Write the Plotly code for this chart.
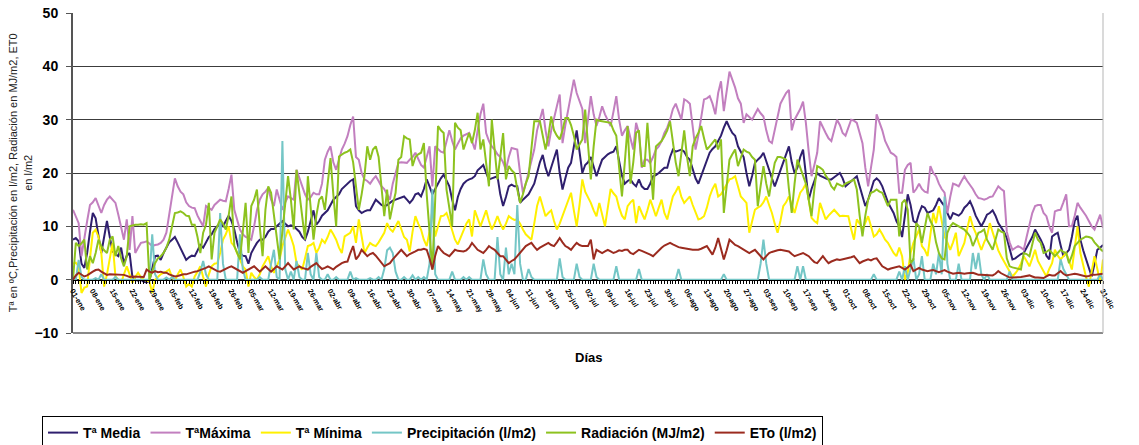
import plotly.graph_objects as go

days = list(range(365))

tick_days = [0, 7, 14, 21, 28, 35, 42, 49, 56, 63, 70, 77, 84, 91, 98, 105, 112, 119, 126,
             133, 140, 147, 154, 161, 168, 175, 182, 189, 196, 203, 210, 217, 224, 231, 238,
             245, 252, 259, 266, 273, 280, 287, 294, 301, 308, 315, 322, 329, 336, 343, 350,
             357, 364]
tick_labels = ["01-ene", "08-ene", "15-ene", "22-ene", "29-ene", "05-feb", "12-feb", "19-feb",
               "26-feb", "05-mar", "12-mar", "19-mar", "26-mar", "02-abr", "09-abr", "16-abr",
               "23-abr", "30-abr", "07-may", "14-may", "21-may", "28-may", "04-jun", "11-jun",
               "18-jun", "25-jun", "02-jul", "09-jul", "16-jul", "23-jul", "30-jul", "06-ago",
               "13-ago", "20-ago", "27-ago", "03-sep", "10-sep", "17-sep", "24-sep", "01-oct",
               "08-oct", "15-oct", "22-oct", "29-oct", "05-nov", "12-nov", "19-nov", "26-nov",
               "03-dic", "10-dic", "17-dic", "24-dic", "31-dic"]

t_media = [
    7.5, 7.8, 7.2, 3.0, 2.2, 5.0, 9.0, 12.5, 11.5, 8.0,
    5.0, 8.0, 11.0, 8.0, 5.3, 4.8, 4.4, 6.0, 3.0, 4.5,
    5.0, 0.5, 0.0, -0.2, 0.0, -0.4, -0.5, -0.2, 2.0, 4.4,
    4.5, 3.7, 5.0, 6.0, 7.0, 7.5, 8.0, 7.0, 6.0, 5.0,
    3.7, 4.2, 4.5, 4.4, 5.5, 6.5, 6.0, 7.0, 8.0, 8.5,
    9.5, 10.0, 10.6, 10.0, 11.0, 12.0, 11.0, 9.4, 7.0, 5.0,
    4.5, 4.4, 3.0, 5.0, 6.0, 6.9, 7.5, 7.5, 8.0, 9.0,
    9.5, 9.5, 10.0, 10.5, 11.0, 10.5, 10.0, 10.2, 10.0, 9.5,
    9.0, 8.0, 7.5, 9.0, 11.0, 13.0, 10.3, 11.0, 12.0, 12.5,
    13.0, 14.0, 15.0, 15.5, 16.0, 17.0, 17.5, 18.0, 18.5, 18.8,
    13.8, 13.0, 12.5, 12.8, 13.0, 13.0, 14.0, 15.0, 14.5, 14.0,
    13.8, 14.0, 14.4, 14.8, 15.0, 15.2, 15.5, 15.6, 15.0, 14.4,
    15.0, 16.0, 16.2, 15.6, 17.0, 18.8, 17.5, 16.0, 17.0, 18.0,
    19.0, 19.7, 18.5, 17.5, 15.0, 13.0, 15.5, 17.0, 18.0, 18.5,
    18.8, 19.0, 19.4, 20.5, 21.0, 21.5, 20.0, 18.8, 19.0, 19.2,
    19.4, 16.0, 13.8, 15.5, 17.5, 17.8, 17.5, 17.5, 14.4, 15.0,
    15.6, 16.0, 17.0, 18.0, 20.0, 22.0, 23.4, 21.0, 19.4, 21.0,
    23.0, 24.4, 20.0, 16.9, 19.0, 21.0, 21.9, 25.0, 28.0, 24.0,
    20.0, 21.5, 22.0, 23.0, 21.0, 19.4, 21.0, 22.5, 23.0, 23.5,
    23.8, 24.0, 25.0, 22.0, 19.5, 18.0, 18.5, 18.8, 18.0, 17.5,
    18.8, 17.5, 17.0, 17.0, 18.0, 19.4, 19.6, 20.0, 20.5, 21.0,
    21.0, 23.0, 24.4, 24.0, 24.2, 24.4, 24.0, 23.0, 22.5, 20.5,
    19.0, 18.0, 19.5, 21.0, 22.5, 23.8, 24.5, 25.0, 26.0, 27.0,
    28.5, 29.7, 28.5, 27.5, 27.0, 25.0, 24.0, 23.0, 20.0, 17.5,
    19.5, 21.9, 22.5, 23.0, 23.8, 22.0, 20.6, 19.0, 17.5, 19.0,
    20.6, 22.0, 23.5, 25.0, 22.0, 20.0, 21.0, 23.0, 24.4, 20.0,
    15.0, 17.0, 18.5, 20.0, 19.5, 19.2, 19.0, 18.8, 18.8, 19.2,
    19.6, 20.0, 19.0, 17.5, 18.0, 18.5, 19.0, 19.4, 17.5, 15.5,
    13.8, 15.0, 17.0, 18.5, 19.0, 18.5, 17.5, 16.0, 14.5, 13.5,
    12.5, 11.0, 10.0, 8.0, 12.0, 16.0, 14.0, 11.0, 10.6, 12.5,
    13.8, 13.5, 12.5, 12.8, 13.0, 14.0, 15.3, 14.5, 13.8, 12.5,
    11.3, 12.5, 12.3, 12.0, 12.5, 13.5, 14.0, 14.7, 13.5, 12.0,
    11.0, 10.0, 11.0, 12.2, 12.5, 13.0, 12.0, 10.6, 9.8, 9.0,
    7.8, 5.5, 3.8, 4.0, 4.4, 4.8, 5.0, 6.0, 6.9, 8.0,
    9.4, 8.5, 7.5, 6.3, 4.5, 3.8, 8.1, 8.5, 8.8, 6.5,
    4.4, 5.0, 5.6, 8.0, 11.0, 12.0, 7.5, 5.5, 3.8, 2.0,
    0.6, 3.0, 5.6, 6.0, 6.5,
]

t_maxima = [
    13.1, 12.0, 10.6, 4.4, 8.0, 11.0, 14.0, 14.5, 15.3, 14.0,
    12.5, 14.0, 15.0, 15.6, 15.0, 14.4, 12.2, 10.0, 7.5, 11.3,
    5.6, 11.9, 5.0, 6.0, 6.9, 7.0, 7.2, 6.8, 6.3, 6.5,
    6.6, 6.9, 7.5, 8.8, 12.0, 15.5, 19.0, 17.5, 16.5, 16.0,
    14.5, 13.8, 13.5, 13.4, 12.0, 11.0, 10.0, 13.8, 13.5, 13.1,
    14.0, 14.5, 15.0, 14.8, 14.7, 17.0, 19.7, 13.1, 11.0, 9.4,
    8.5, 8.0, 7.8, 7.5, 10.0, 13.0, 15.0, 16.0, 16.5, 17.2,
    15.0, 13.8, 16.9, 15.0, 13.1, 14.5, 15.6, 15.3, 15.0, 20.6,
    19.0, 17.5, 16.0, 15.0, 15.5, 16.3, 16.0, 16.0, 18.0, 22.5,
    24.0, 25.0, 22.0, 20.6, 22.5, 24.4, 25.5, 26.9, 29.0, 30.6,
    23.0, 22.5, 20.0, 18.8, 18.5, 18.0, 18.8, 19.4, 18.5, 17.5,
    17.0, 16.0, 15.0, 18.0, 20.0, 21.9, 22.0, 21.9, 21.9, 22.5,
    23.0, 23.8, 22.5, 21.5, 21.0, 23.0, 25.0, 17.5, 25.0, 24.5,
    24.0, 23.8, 26.0, 28.0, 26.0, 24.4, 25.5, 26.5, 27.0, 27.2,
    27.5, 26.0, 24.4, 28.0, 31.0, 33.0, 27.5, 26.0, 25.0, 24.4,
    23.5, 23.0, 22.0, 20.6, 23.0, 24.7, 24.5, 24.4, 20.0, 16.3,
    18.0, 20.0, 22.0, 24.4, 28.0, 30.0, 32.0, 28.0, 25.0, 28.0,
    30.0, 32.5, 34.7, 25.6, 29.0, 32.0, 35.0, 37.5, 35.0, 33.5,
    32.0, 25.6, 30.0, 34.4, 31.0, 28.8, 30.5, 32.5, 31.0, 30.0,
    28.8, 31.5, 34.4, 30.0, 27.0, 28.0, 28.8, 26.5, 24.4, 29.4,
    27.5, 21.0, 22.5, 22.5, 21.9, 23.0, 24.4, 25.0, 26.0, 27.5,
    28.5, 30.0, 32.0, 33.0, 31.5, 30.0, 33.8, 33.5, 33.0, 29.0,
    24.4, 27.0, 30.0, 33.8, 34.0, 34.4, 33.0, 31.0, 35.0, 37.2,
    31.6, 35.0, 39.0, 37.5, 36.0, 34.0, 33.0, 29.4, 31.0, 30.5,
    30.0, 31.0, 32.0, 31.2, 30.6, 28.0, 26.0, 25.6, 28.0, 30.5,
    33.0, 34.0, 35.0, 35.6, 28.0, 30.0, 31.0, 32.0, 33.4, 29.4,
    24.0, 19.4, 21.5, 23.8, 29.7, 28.5, 27.5, 26.5, 26.0, 28.0,
    30.0, 29.0, 27.5, 27.0, 28.5, 30.0, 29.8, 29.4, 27.5, 25.6,
    21.0, 17.5, 21.0, 24.4, 31.0, 29.5, 28.0, 26.0, 25.0, 23.8,
    23.5, 23.0, 16.3, 16.3, 20.6, 21.5, 21.9, 16.3, 17.0, 18.0,
    17.0, 16.5, 16.3, 21.3, 20.0, 19.4, 18.0, 17.0, 16.3, 12.5,
    15.5, 18.0, 17.8, 17.5, 18.5, 19.4, 18.5, 17.8, 17.0, 16.0,
    15.3, 15.2, 15.0, 15.2, 15.5, 15.6, 16.5, 17.5, 17.0, 16.6,
    9.0, 7.0, 5.6, 6.0, 6.3, 6.0, 5.6, 8.0, 10.6, 12.5,
    13.8, 14.0, 14.0, 12.5, 11.9, 10.0, 8.8, 12.8, 13.0, 13.1,
    14.5, 16.0, 10.0, 10.0, 12.0, 14.4, 13.5, 12.8, 12.0, 11.0,
    10.0, 9.4, 11.0, 12.2, 9.7,
]

t_minima = [
    3.0, 3.2, 2.5, -2.5, -1.5, -1.3, 4.0, 8.8, 9.4, 8.0,
    5.0, -1.3, 1.0, 3.8, 6.9, 0.6, 0.0, -0.6, 1.0, 2.5,
    1.0, -0.6, 0.5, 1.3, 0.5, 0.0, -0.2, -0.3, -2.5, 0.0,
    0.5, 1.0, 1.3, 1.5, 1.9, 0.5, -0.3, 1.0, 1.9, 0.5,
    -1.3, -0.8, -1.3, 0.6, 1.5, 2.5, 0.5, -1.3, 1.0, 2.5,
    3.0, 3.1, 5.0, 7.5, 8.5, 10.0, 6.9, 6.3, 5.0, 3.8,
    2.5, 1.9, -1.3, 1.3, 0.5, 0.0, 1.0, 2.5, 3.5, 4.4,
    2.5, 1.3, 2.5, 3.8, 6.3, 8.0, 9.4, 8.0, 6.3, 3.1,
    2.5, 1.9, 4.0, 6.3, 6.5, 6.9, 5.0, 6.0, 7.5, 6.9,
    8.0, 9.4, 8.5, 7.5, 6.0, 5.0, 8.1, 8.5, 8.8, 10.0,
    6.9, 11.3, 8.0, 5.0, 6.0, 6.9, 6.5, 6.3, 7.0, 8.0,
    8.8, 10.6, 9.5, 9.0, 10.0, 11.0, 9.5, 8.0, 7.5, 5.3,
    9.0, 11.9, 10.5, 9.4, 7.5, 6.3, 9.0, 13.0, 8.1, 10.0,
    11.9, 12.0, 12.5, 11.0, 9.4, 7.5, 6.6, 8.0, 9.4, 10.5,
    11.3, 8.1, 13.0, 11.5, 10.0, 11.5, 13.0, 11.0, 9.4, 10.5,
    11.9, 10.5, 9.4, 10.5, 11.9, 11.5, 11.2, 11.3, 10.5, 9.4,
    8.5, 8.0, 7.5, 10.5, 13.8, 15.6, 13.5, 11.9, 12.5, 13.0,
    11.0, 9.4, 10.5, 11.9, 13.5, 15.0, 16.3, 13.0, 10.0, 14.0,
    18.8, 16.5, 15.5, 14.4, 13.0, 11.9, 14.4, 12.0, 10.0, 13.5,
    17.0, 16.2, 15.6, 13.5, 12.0, 11.3, 13.8, 14.5, 15.0, 10.6,
    13.8, 12.5, 11.3, 13.0, 15.0, 13.5, 11.9, 13.5, 15.0, 12.5,
    11.3, 13.5, 15.6, 16.5, 17.5, 15.5, 14.4, 15.0, 15.6, 14.0,
    12.5, 11.3, 11.5, 11.9, 13.5, 15.6, 17.0, 18.0, 15.6, 16.0,
    16.9, 17.8, 18.8, 19.0, 19.4, 17.5, 15.6, 15.0, 14.4, 8.8,
    11.0, 13.1, 13.5, 13.8, 14.5, 15.6, 14.0, 12.5, 10.5, 8.8,
    11.0, 13.8, 14.5, 15.6, 14.0, 12.5, 14.5, 16.3, 17.0, 18.0,
    15.0, 11.6, 11.0, 10.6, 14.4, 13.0, 11.3, 12.0, 12.5, 13.1,
    12.5, 11.9, 12.0, 11.9, 11.9, 9.5, 7.5, 11.3, 10.5, 9.4,
    10.5, 11.9, 10.0, 8.1, 8.5, 9.4, 8.5, 7.5, 6.9, 6.0,
    5.0, 4.4, 6.0, 4.4, 0.0, 1.3, 5.0, 6.9, 8.1, 9.4,
    6.3, 5.6, 4.4, 8.1, 12.5, 10.6, 13.8, 11.0, 8.1, 7.0,
    5.6, 7.0, 8.8, 4.4, 5.5, 6.9, 9.5, 11.9, 10.0, 8.8,
    7.0, 5.6, 7.0, 8.1, 10.6, 9.0, 7.5, 5.5, 4.4, 3.5,
    2.5, 1.5, 0.6, 1.2, 1.9, 3.0, 4.4, 3.5, 2.5, 4.0,
    5.6, 3.5, 2.5, 1.5, 0.6, 2.0, 3.1, 5.6, 4.5, 3.8,
    4.4, 5.0, 3.5, 1.9, 6.0, 10.0, 5.0, 2.5, 0.5, -1.3,
    1.5, 4.4, 2.0, -0.6, 3.8,
]

precipitacion = [
    0, 0, 3.7, 0.5, 0, 0, 0, 0, 0.3, 0,
    1.0, 0, 0, 0, 0, 0.5, 0, 0, 0, 0,
    0, 0, 0, 0, 0, 0, 0, 0, 8.5, 1.0,
    0, 0, 0, 0.4, 0, 0.5, 0, 0, 0, 0,
    0, 0, 0, 0, 0, 1.5, 3.5, 1.0, 0, 0,
    0, 0, 12.5, 3.0, 0, 0, 0, 0, 0, 8.5,
    2.0, 0, 0, 0, 0, 0, 0.5, 0, 0, 0,
    3.0, 5.6, 0.5, 0, 26.0, 2.0, 0, 1.5, 0, 3.5,
    0.5, 0, 0, 5.0, 1.0, 0, 5.0, 0.5, 0, 0,
    1.0, 0, 0, 0.5, 0, 0, 0, 0, 1.5, 0,
    0.3, 0, 0, 0, 0, 0.3, 0, 0, 0.5, 0,
    2.0, 5.5, 6.0, 5.0, 1.5, 0, 0, 0.5, 0, 0,
    0.8, 0, 0.5, 0, 0.5, 0, 3.0, 17.0, 1.0, 0,
    0, 0, 0, 0, 1.5, 0, 0, 0, 0.5, 0,
    0.5, 0, 0, 0, 0, 3.8, 1.0, 0, 0, 0,
    8.0, 1.0, 0, 6.0, 1.0, 3.0, 1.0, 14.0, 3.0, 0,
    0, 2.0, 0.5, 0, 0, 0, 0, 0, 0, 0,
    0, 0, 4.0, 0.5, 0, 0, 0, 0, 3.0, 0.5,
    0, 0, 0, 0, 3.0, 0.5, 0, 0, 0, 0,
    0, 0, 2.5, 0, 0, 0, 0, 0, 0, 0,
    2.0, 0, 0, 0, 0, 0, 0, 0, 0, 0,
    0, 0, 0, 0, 2.0, 0, 0, 0, 0, 0,
    0, 0, 0, 0, 0, 0, 0, 0, 0, 0,
    1.0, 0, 0, 0, 0, 0, 0, 0, 0, 0,
    0, 0, 0, 3.0, 7.5, 3.0, 0, 0, 0, 0,
    0, 0, 0, 0, 0, 0, 2.5, 0, 2.5, 0,
    0, 0, 0, 0, 0, 0, 0, 0, 0, 0,
    0, 0, 0, 0, 0, 0, 0, 0, 0, 0,
    0, 0, 0, 1.0, 0, 0, 0, 0, 0, 0,
    0, 0, 1.5, 0, 2.5, 0, 2.0, 4.0, 0, 1.0,
    4.4, 0, 0, 0, 3.0, 1.0, 5.0, 1.0, 15.6, 3.0,
    0, 0, 0, 3.0, 0, 0, 0, 0, 5.0, 2.0,
    5.0, 1.0, 0, 1.0, 0, 0, 0, 0, 0, 0,
    0, 1.5, 0, 0, 0, 0, 0, 0, 0, 0,
    0, 0, 0, 0, 0, 0, 0, 0, 0, 3.8,
    2.0, 1.0, 0, 0, 0, 0, 0, 0, 0, 0,
    0, 0, 0, 1.0, 0,
]

radiacion = [
    0.0, 6.9, 6.3, 6.8, 7.5, 1.9, 4.4, 3.1, 5.0, 7.5,
    6.3, 5.5, 5.0, 7.5, 8.1, 4.4, 6.3, 4.0, 2.5, 4.4,
    10.0, 10.2, 10.3, 10.3, 10.4, 10.3, 10.6, 0.0, 1.5, 3.1,
    4.0, 4.4, 5.0, 6.0, 7.5, 10.0, 12.5, 12.6, 12.8, 12.5,
    12.0, 11.9, 10.3, 10.3, 8.0, 5.0, 8.8, 10.3, 14.4, 3.8,
    8.8, 10.0, 11.3, 10.5, 9.4, 12.0, 15.6, 6.3, 5.0, 3.8,
    9.0, 14.4, 5.0, 13.8, 15.0, 16.9, 10.0, 4.4, 13.1, 17.5,
    16.3, 12.0, 7.5, 3.8, 9.0, 13.8, 19.4, 15.0, 9.4, 20.6,
    16.0, 12.5, 7.5, 19.4, 13.0, 7.5, 12.0, 15.0, 15.6, 13.1,
    18.0, 22.8, 16.0, 10.0, 23.1, 23.5, 23.8, 24.0, 24.4, 22.0,
    16.9, 13.1, 16.0, 19.4, 25.0, 22.5, 24.4, 25.0, 23.0, 17.0,
    11.9, 16.9, 11.3, 14.0, 16.3, 22.5, 23.0, 26.9, 26.5, 26.3,
    21.3, 23.0, 23.5, 23.8, 25.6, 16.0, 8.1, 1.9, 15.0, 28.8,
    28.0, 27.5, 16.9, 13.0, 10.0, 29.4, 28.5, 28.0, 24.4, 26.0,
    27.5, 25.6, 28.0, 31.3, 24.4, 26.3, 22.0, 17.5, 30.0, 24.0,
    18.8, 23.0, 27.5, 18.8, 21.3, 20.5, 20.0, 17.0, 14.4, 16.0,
    18.0, 19.4, 25.0, 29.7, 29.7, 29.7, 27.0, 24.4, 27.0, 30.6,
    28.0, 27.0, 26.3, 28.0, 30.3, 30.3, 29.0, 27.0, 24.4, 25.5,
    26.3, 31.9, 25.0, 18.8, 25.0, 30.0, 29.8, 29.7, 29.5, 29.5,
    29.4, 28.0, 27.0, 21.0, 15.6, 22.0, 28.8, 18.0, 22.0, 27.5,
    28.0, 21.3, 21.3, 29.4, 22.0, 15.0, 25.0, 25.6, 26.0, 26.9,
    28.0, 29.7, 26.0, 22.0, 19.4, 24.0, 28.0, 23.0, 19.4, 25.0,
    26.5, 27.5, 28.8, 26.5, 24.4, 25.0, 25.6, 26.3, 24.4, 26.3,
    12.5, 18.0, 22.5, 23.5, 24.4, 21.3, 23.0, 24.4, 24.0, 23.8,
    23.0, 22.5, 13.8, 18.0, 21.3, 18.0, 15.6, 19.0, 21.9, 23.0,
    23.0, 22.8, 22.5, 17.0, 12.5, 18.0, 22.5, 21.0, 19.4, 18.0,
    15.0, 11.9, 17.0, 21.3, 21.0, 20.6, 19.5, 18.8, 17.5, 16.9,
    18.0, 17.8, 17.5, 18.0, 18.2, 18.5, 18.8, 16.9, 12.0, 8.1,
    12.0, 15.0, 16.3, 16.5, 16.9, 16.5, 16.3, 15.0, 13.8, 15.0,
    15.0, 15.0, 8.1, 14.4, 15.0, 13.1, 3.1, 3.8, 10.6, 10.0,
    6.9, 10.0, 12.5, 11.0, 10.0, 7.0, 5.0, 4.0, 3.8, 8.8,
    10.0, 10.6, 10.3, 10.0, 9.7, 9.4, 8.8, 8.1, 6.3, 7.5,
    8.8, 9.0, 9.4, 7.5, 6.5, 5.6, 7.5, 9.4, 9.0, 8.8,
    4.0, 2.5, 2.3, 2.2, 2.0, 1.9, 5.0, 4.8, 4.4, 6.5,
    8.8, 7.5, 6.9, 5.0, 5.2, 5.6, 5.0, 4.4, 5.0, 5.6,
    5.2, 5.0, 3.1, 4.5, 6.3, 7.0, 7.5, 7.8, 8.1, 8.0,
    7.8, 7.0, 6.3, 5.8, 5.3,
]

eto = [
    0.0, 0.8, 1.3, 1.0, 0.6, 0.8, 1.2, 1.5, 1.8, 1.9,
    1.5, 1.2, 0.9, 1.0, 1.0, 1.0, 1.0, 0.9, 0.9, 0.7,
    0.5, 0.6, 0.6, 0.6, 0.5, 0.5, 1.9, 1.5, 1.3, 1.6,
    1.4, 1.5, 1.3, 1.3, 1.0, 0.8, 0.6, 0.7, 0.9, 1.0,
    1.0, 1.2, 1.4, 1.5, 1.6, 1.8, 1.9, 2.2, 2.5, 2.2,
    1.9, 1.6, 1.5, 1.8, 2.0, 2.3, 2.5, 2.2, 1.9, 1.5,
    1.3, 1.6, 1.9, 2.2, 2.5, 2.0, 1.5, 2.0, 2.5, 2.0,
    1.5, 2.0, 2.5, 2.2, 1.9, 2.5, 3.1, 2.5, 1.9, 2.2,
    2.5, 2.2, 2.0, 1.9, 2.4, 2.8, 3.1, 2.5, 2.0, 2.2,
    2.5, 2.2, 1.9, 2.4, 2.8, 3.1, 3.3, 3.4, 5.0, 6.3,
    3.8, 4.5, 5.6, 5.0, 4.4, 4.8, 5.0, 4.5, 3.8, 3.2,
    2.5, 2.8, 3.1, 3.8, 4.4, 5.0, 5.6, 5.0, 4.4, 4.8,
    5.0, 5.3, 5.6, 5.6, 5.8, 5.6, 4.0, 1.9, 4.5, 6.3,
    5.6, 5.0, 4.7, 4.4, 5.0, 5.6, 5.4, 5.3, 5.3, 5.5,
    6.0, 6.9, 6.2, 5.6, 5.3, 5.0, 5.6, 6.3, 5.9, 5.6,
    5.0, 4.4, 4.4, 3.8, 3.1, 3.5, 3.8, 4.4, 5.0, 5.6,
    6.3, 6.6, 6.9, 6.2, 5.6, 6.0, 6.3, 6.6, 6.9, 6.5,
    6.3, 7.0, 7.8, 7.0, 6.3, 6.0, 5.6, 6.3, 6.9, 6.5,
    6.3, 6.3, 6.3, 7.5, 3.8, 5.6, 5.3, 5.0, 5.3, 5.6,
    5.3, 5.0, 5.2, 5.5, 5.4, 5.6, 5.6, 5.0, 4.8, 5.2,
    5.6, 5.4, 5.2, 5.0, 4.7, 4.4, 5.0, 5.6, 6.0, 6.4,
    6.7, 6.9, 6.6, 6.3, 6.1, 6.0, 5.9, 5.7, 5.6, 5.6,
    5.6, 5.6, 5.8, 6.1, 6.3, 5.5, 4.7, 6.0, 7.8, 5.8,
    3.8, 5.5, 7.5, 7.0, 6.5, 6.3, 6.0, 5.6, 5.3, 5.0,
    5.3, 5.6, 5.0, 4.4, 3.8, 4.4, 5.0, 5.2, 5.4, 5.5,
    5.6, 5.5, 5.3, 5.3, 4.8, 4.4, 4.6, 4.8, 5.0, 4.7,
    4.4, 3.8, 3.3, 3.1, 3.8, 4.4, 3.7, 3.1, 3.4, 3.6,
    3.8, 3.7, 3.8, 3.9, 4.1, 4.2, 4.4, 3.8, 3.1, 3.4,
    3.6, 3.8, 3.6, 3.9, 4.0, 3.2, 2.5, 2.2, 1.9, 2.1,
    2.2, 2.3, 2.5, 2.2, 1.9, 2.3, 2.8, 1.6, 1.9, 2.2,
    1.9, 1.8, 1.6, 1.7, 1.8, 1.6, 1.4, 1.6, 1.8, 1.5,
    1.3, 1.1, 1.2, 1.3, 1.2, 1.1, 1.2, 1.3, 1.3, 1.1,
    0.9, 0.9, 0.9, 0.8, 0.8, 0.8, 1.1, 1.6, 1.2, 0.9,
    0.6, 0.4, 0.4, 0.4, 0.5, 0.5, 0.6, 0.7, 0.8, 0.6,
    0.4, 0.4, 0.4, 0.3, 0.6, 0.9, 0.8, 0.8, 1.2, 1.6,
    1.1, 0.8, 0.9, 1.0, 1.1, 1.0, 0.9, 0.8, 0.6, 0.7,
    0.9, 0.9, 1.0, 1.0, 1.1,
]

series_names = ["Tª Media", "TªMáxima", "Tª Mínima", "Precipitación (l/m2)",
                "Radiación (MJ/m2)", "ETo (l/m2)"]
series_values = [t_media, t_maxima, t_minima, precipitacion, radiacion, eto]
series_colors = ["#2f1f6e", "#c27fbf", "#fff000", "#74c6c6", "#8dc21f", "#9b2b1f"]

for v in series_values:
    assert len(v) == 365, len(v)

FONT = "Liberation Sans, Arial, sans-serif"
W, H = 1139, 445

fig = go.Figure()
for name, vals, col in zip(series_names, series_values, series_colors):
    fig.add_trace(go.Scatter(x=days, y=vals, mode="lines", name=name,
                             line=dict(color=col, width=2)))

fig.update_layout(
    width=W, height=H,
    margin=dict(l=73, r=36, t=13, b=112),
    paper_bgcolor="white", plot_bgcolor="white",
    font=dict(family=FONT, color="black"),
    showlegend=True,
    legend=dict(orientation="h", xref="container", yref="container",
                x=42 / W, xanchor="left", y=(H - 416) / H, yanchor="top",
                bordercolor="black", borderwidth=1, bgcolor="white",
                font=dict(family=FONT, size=14, color="black", weight="bold"),
                itemwidth=30, tracegroupgap=0),
    xaxis=dict(range=[0, 364], anchor="free", position=1/6,
               showline=True, linecolor="black", linewidth=1,
               tickmode="array", tickvals=tick_days, ticktext=tick_labels,
               tickangle=60, ticks="outside", ticklen=3, tickcolor="black",
               tickfont=dict(family=FONT, size=7.5, color="black", weight="bold"),
               showgrid=False, zeroline=False, automargin=False,
               ticklabeloverflow="allow",
               minor=dict(ticks="outside", ticklen=3, tickcolor="black",
                          tickmode="linear", tick0=0, dtick=1, showgrid=False)),
    yaxis=dict(range=[-10, 50], tickmode="linear", tick0=0, dtick=10,
               showgrid=True, gridcolor="#3c3c3c", gridwidth=1, zeroline=False,
               showline=True, linecolor="#555555", linewidth=2,
               ticks="outside", ticklen=5, tickcolor="#555555", ticklabelstandoff=5,
               automargin=False, ticklabeloverflow="allow",
               tickfont=dict(family=FONT, size=14, color="black", weight="bold")),
    shapes=[
        dict(type="line", xref="paper", yref="paper", x0=0, x1=1, y0=0, y1=0,
             line=dict(color="#8a8a8a", width=2)),
        dict(type="line", xref="paper", yref="paper", x0=1, x1=1, y0=0, y1=1,
             line=dict(color="#b5b5b5", width=1)),
    ],
    annotations=[
        dict(text="Días", xref="paper", yref="paper", x=0.5, y=-0.075,
             xanchor="center", yanchor="middle", showarrow=False,
             font=dict(family=FONT, size=13, color="black", weight="bold")),
        dict(text="Tª en ºC,Precipitación en l/m2, Radiación en MJ/m2, ET0<br>en l/m2",
             xref="paper", yref="paper", x=-0.0512, y=0.5, textangle=-90,
             xanchor="center", yanchor="middle", showarrow=False,
             font=dict(family=FONT, size=11, color="#222222")),
    ],
)

fig.write_html(
    "out.html",
    config={"displayModeBar": False},
    post_script="document.body.style.margin='0px';document.body.style.overflow='hidden';",
)
